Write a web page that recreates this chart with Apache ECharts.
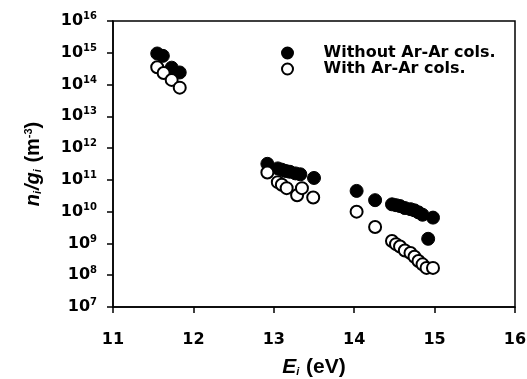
<!DOCTYPE html>
<html>
<head>
<meta charset="utf-8">
<script src="https://cdn.jsdelivr.net/npm/echarts@6/dist/echarts.min.js"></script>
<style>
  html, body { margin: 0; padding: 0; background: #fff; }
  #chart { width: 527px; height: 379px; }
</style>
</head>
<body>
<div id="chart"></div>
<script>
// series data
var withoutE = [11.55, 11.62, 11.73, 11.83,
  12.92, 13.05, 13.10, 13.15, 13.20, 13.27, 13.33, 13.50,
  14.03, 14.26, 14.47, 14.52, 14.57, 14.63, 14.70, 14.75, 14.80, 14.85, 14.92, 14.98];
var withoutN = [9.5e14, 8e14, 3.4e14, 2.4e14,
  3.2e11, 2.3e11, 2.1e11, 1.9e11, 1.8e11, 1.6e11, 1.5e11, 1.15e11,
  4.5e10, 2.3e10, 1.7e10, 1.6e10, 1.5e10, 1.3e10, 1.2e10, 1.1e10, 9.5e9, 8e9, 1.4e9, 6.5e9];
var withE = [11.55, 11.63, 11.73, 11.83,
  12.92, 13.05, 13.10, 13.16, 13.29, 13.35, 13.49,
  14.03, 14.26, 14.47, 14.52, 14.57, 14.63, 14.70, 14.75, 14.80, 14.85, 14.90, 14.98];
var withN = [3.5e14, 2.3e14, 1.4e14, 8e13,
  1.7e11, 8.5e10, 7e10, 5.5e10, 3.3e10, 5.5e10, 2.8e10,
  1e10, 3.3e9, 1.2e9, 9.5e8, 8e8, 6e8, 5e8, 3.8e8, 2.8e8, 2.2e8, 1.7e8, 1.7e8];
var seriesNames = ['Without Ar-Ar cols.', 'With Ar-Ar cols.'];

function pairs(xs, ys) {
  return xs.map(function (x, i) { return [x, ys[i]]; });
}

var font = 'Liberation Sans, Arial, sans-serif';
var wide = 'DejaVu Sans, sans-serif';
var myChart = echarts.init(document.getElementById('chart'));

myChart.setOption({
  animation: false,
  grid: {
    left: 113, right: 12, top: 21, bottom: 72,
    outerBoundsMode: 'none', containLabel: false,
    show: true, borderColor: '#000', borderWidth: 1.5
  },
  legend: {
    orient: 'vertical',
    left: 276,
    top: 40,
    itemWidth: 62,
    itemHeight: 11,
    itemGap: 0,
    textStyle: { fontFamily: wide, fontWeight: 'bold', fontSize: 16, color: '#000' },
    data: seriesNames
  },
  xAxis: {
    type: 'value',
    min: 11,
    max: 16,
    interval: 1,
    name: '{it|E}{sub|i} (eV)',
    nameLocation: 'middle',
    nameGap: 50,
    nameTextStyle: {
      fontFamily: font, fontWeight: 'bold', fontSize: 21, color: '#000',
      rich: {
        it: { fontFamily: font, fontWeight: 'bold', fontStyle: 'italic', fontSize: 21, color: '#000' },
        sub: { fontFamily: font, fontWeight: 'bold', fontStyle: 'italic', fontSize: 11, color: '#000', padding: [9, 1, 0, 0] }
      }
    },
    axisLine: { lineStyle: { color: '#000', width: 1.5 } },
    axisTick: { inside: false, length: 6, lineStyle: { color: '#000', width: 1.5 } },
    axisLabel: { margin: 25, fontFamily: wide, fontWeight: 'bold', fontSize: 16, color: '#000' },
    splitLine: { show: false }
  },
  yAxis: {
    type: 'log',
    logBase: 10,
    min: 1e7,
    max: 1e16,
    name: '{it|n}{sub|i}{it|/g}{sub|i} (m{sup|-3})',
    nameLocation: 'middle',
    nameGap: 70,
    nameRotate: 90,
    nameTextStyle: {
      fontFamily: font, fontWeight: 'bold', fontSize: 20, color: '#000',
      rich: {
        it: { fontFamily: font, fontWeight: 'bold', fontStyle: 'italic', fontSize: 20, color: '#000' },
        sub: { fontFamily: font, fontWeight: 'bold', fontStyle: 'italic', fontSize: 11, color: '#000', padding: [9, 1, 0, 0] },
        sup: { fontFamily: font, fontWeight: 'bold', fontSize: 11, color: '#000', padding: [0, 0, 9, 0] }
      }
    },
    axisLine: { lineStyle: { color: '#000', width: 1.5 } },
    axisTick: { inside: false, length: 6, lineStyle: { color: '#000', width: 1.5 } },
    axisLabel: {
      margin: 16,
      formatter: function (v) {
        return '{b|10}{e|' + Math.round(Math.log10(v)) + '}';
      },
      rich: {
        b: { fontFamily: wide, fontWeight: 'bold', fontSize: 16, color: '#000' },
        e: { fontFamily: wide, fontWeight: 'bold', fontSize: 10, color: '#000', padding: [0, 0, 9, 0] }
      }
    },
    splitLine: { show: false }
  },
  series: [
    {
      name: seriesNames[0],
      type: 'scatter',
      symbol: 'circle',
      symbolSize: 13,
      itemStyle: { color: '#000', borderColor: '#000', borderWidth: 1, opacity: 1 },
      data: pairs(withoutE, withoutN)
    },
    {
      name: seriesNames[1],
      type: 'scatter',
      symbol: 'circle',
      symbolSize: 12,
      itemStyle: { color: '#fff', borderColor: '#000', borderWidth: 2, opacity: 1 },
      data: pairs(withE, withN)
    }
  ]
});
</script>
</body>
</html>
